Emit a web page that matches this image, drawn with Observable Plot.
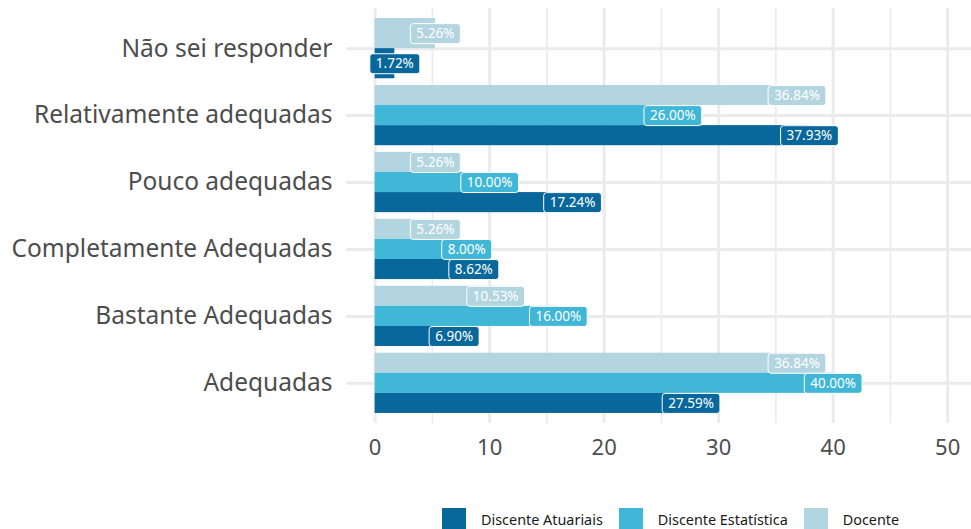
<!DOCTYPE html>
<html>
<head>
<meta charset="utf-8">
<script src="https://cdn.jsdelivr.net/npm/d3@7"></script>
<script src="https://cdn.jsdelivr.net/npm/@observablehq/plot@0.6"></script>
<style>
  html, body { margin: 0; padding: 0; background: white; }
  #wrap { position: relative; width: 971px; height: 529px; overflow: hidden; font-family: "Noto Sans", sans-serif; }
  #legend { position: absolute; top: 508px; left: 442px; display: flex; align-items: center; }
  .item { display: flex; align-items: center; margin-right: 16px; }
  .sw { width: 24px; height: 22px; }
  .lab { margin-left: 15px; font-size: 14.4px; color: #1a1a1a; }
</style>
</head>
<body>
<div id="wrap"></div>
<script>
// ---- data ----
const categories = ["Não sei responder", "Relativamente adequadas", "Pouco adequadas", "Completamente Adequadas", "Bastante Adequadas", "Adequadas"];
const seriesNames = ["Discente Atuariais", "Discente Estatística", "Docente"];
const atuariais   = [1.72, 37.93, 17.24, 8.62, 6.90, 27.59];
const estatistica = [null, 26.00, 10.00, 8.00, 16.00, 40.00];
const docente     = [5.26, 36.84, 5.26, 5.26, 10.53, 36.84];
const xTicks = [0, 10, 20, 30, 40, 50];
const xMinor = [5, 15, 25, 35, 45];
const colors = ["#08689b", "#41b7d7", "#b2d5e0"];

// ---- build dodged rows (ggplot-like position_dodge) ----
const seriesVals = [atuariais, estatistica, docente];
const topToBottom = [2, 1, 0];
const n = categories.length;
const catPos = categories.map((c, i) => n - i);
const rows = [];
categories.forEach((c, i) => {
  const pos = n - i;
  const present = topToBottom.filter(s => seriesVals[s][i] != null);
  const w = 0.9 / present.length;
  present.forEach((s, k) => {
    const top = pos + 0.45 - k * w;
    rows.push({category: c, series: seriesNames[s], value: seriesVals[s][i], y1: top, y2: top - w, ym: top - w / 2});
  });
});
const fmt = v => v.toFixed(2) + "%";

const labelFont = '13.5px "Noto Sans"';
const ctx = document.createElement("canvas").getContext("2d");
ctx.font = labelFont;

function labelRender(index, scales, values, dimensions, context, next) {
  const g = next(index, scales, values, dimensions, context);
  const ns = "http://www.w3.org/2000/svg";
  const bg = document.createElementNS(ns, "g");
  for (const i of index) {
    const w = ctx.measureText(fmt(rows[i].value)).width + 12;
    const h = 20;
    const r = document.createElementNS(ns, "rect");
    r.setAttribute("x", values.x[i] - w / 2);
    r.setAttribute("y", values.y[i] - h / 2);
    r.setAttribute("width", w);
    r.setAttribute("height", h);
    r.setAttribute("rx", 3);
    r.setAttribute("fill", scales.color(rows[i].series));
    r.setAttribute("stroke", "white");
    r.setAttribute("stroke-width", 1);
    bg.appendChild(r);
  }
  g.insertBefore(bg, g.firstChild);
  return g;
}

const chart = Plot.plot({
  width: 971,
  height: 490,
  marginLeft: 346,
  marginRight: 0,
  marginTop: 8,
  marginBottom: 67,
  x: {domain: [-2.5, 52.08], label: null},
  y: {domain: [0.4, 6.6], label: null},
  color: {domain: seriesNames, range: colors},
  style: {fontFamily: '"Noto Sans", sans-serif', fontSize: "22px", color: "#4d4d4d", background: "white", overflow: "visible"},
  marks: [
    Plot.ruleX(xMinor, {stroke: "#ebebeb", strokeWidth: 1.6}),
    Plot.ruleX(xTicks, {stroke: "#ebebeb", strokeWidth: 3}),
    Plot.ruleY(catPos, {stroke: "#ebebeb", strokeWidth: 3}),
    Plot.rect(rows, {x1: () => 0, x2: "value", y1: "y1", y2: "y2", fill: "series"}),
    Plot.text(rows, {x: "value", y: "ym", text: d => fmt(d.value), fill: "white", fontSize: 13.5, render: labelRender}),
    Plot.axisX({ticks: xTicks, tickSize: 0, tickPadding: 16, fontSize: 22}),
    Plot.axisY({ticks: catPos, tickFormat: p => categories[n - p], tickSize: 0, tickPadding: 14, fontSize: 24.5})
  ]
});

const wrap = document.getElementById("wrap");
wrap.appendChild(chart);
const legend = document.createElement("div");
legend.id = "legend";
seriesNames.forEach((s, i) => {
  const item = document.createElement("div");
  item.className = "item";
  const sw = document.createElement("div");
  sw.className = "sw";
  sw.style.background = colors[i];
  const lab = document.createElement("span");
  lab.className = "lab";
  lab.textContent = s;
  item.appendChild(sw);
  item.appendChild(lab);
  legend.appendChild(item);
});
wrap.appendChild(legend);
</script>
</body>
</html>
